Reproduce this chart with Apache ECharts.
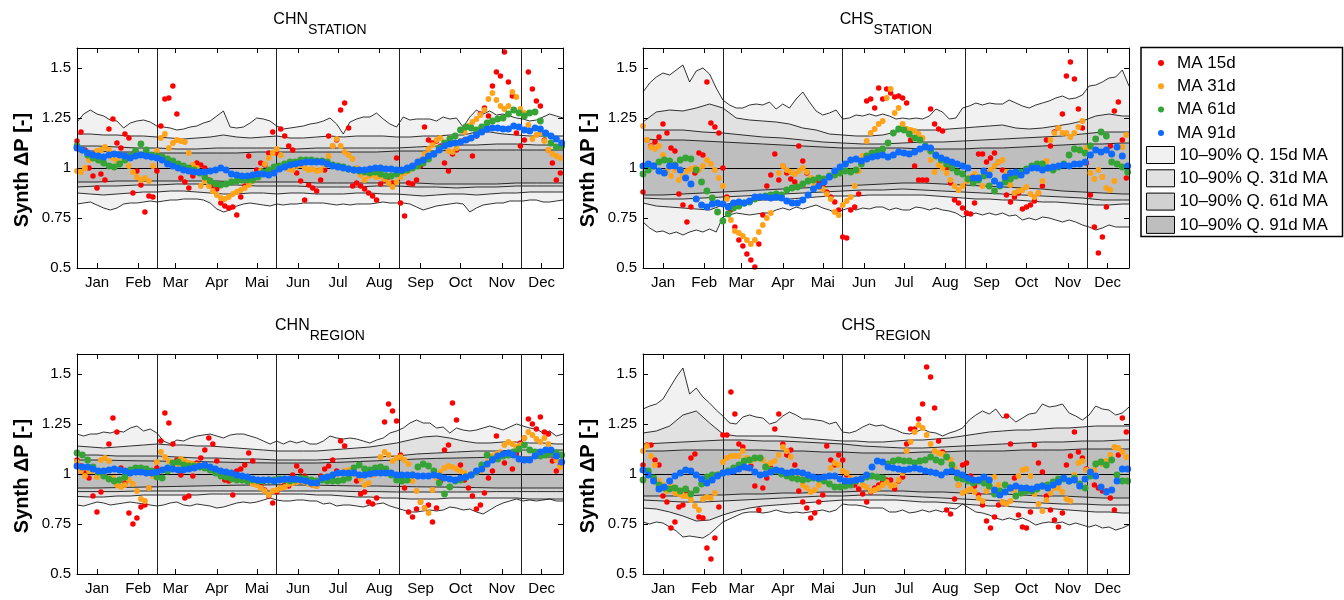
<!DOCTYPE html>
<html>
<head>
<meta charset="utf-8">
<script src="https://cdn.jsdelivr.net/npm/echarts@6/dist/echarts.min.js"></script>
<style>html,body{margin:0;padding:0;background:#fff}#chart{width:1344px;height:600px}</style>
</head>
<body>
<div id="chart"></div>
<script>
// ---------- axis / tick data ----------
const monthLabels = ['Jan','Feb','Mar','Apr','Mai','Jun','Jul','Aug','Sep','Oct','Nov','Dec'];
const monthTickDays = [15,46,74,105,135,166,196,227,258,288,319,349];
const seasonLines = [60.5,150,242,334];
const yTickValues = [0.5,0.75,1,1.25,1.5];
const seriesNames = ['MA 15d','MA 31d','MA 61d','MA 91d'];
const bandNames = ['10–90% Q. 15d MA','10–90% Q. 31d MA','10–90% Q. 61d MA','10–90% Q. 91d MA'];
// sampling step (days) of each stored array
const STEP = {ma15:3, ma31:3, ma61:4, ma91:4, q15:5, q31:10, q61:15, q91:15};

// ---------- CHN STATION ----------
const chnStationMA15 = [1.135,1.18,1.09,1.00,0.96,0.90,0.97,0.94,1.195,1.245,1.125,1.10,1.17,1.15,0.875,0.985,0.915,0.78,0.86,0.855,0.985,1.21,1.345,1.35,1.41,1.27,0.95,0.93,0.90,0.96,1.025,1.015,1.00,0.94,0.91,0.895,0.825,0.81,0.80,0.805,0.765,0.855,0.91,1.06,0.95,0.99,1.025,1.015,1.075,1.18,1.075,1.195,1.16,1.11,1.09,0.975,0.935,0.84,0.915,0.90,0.885,
0.94,0.99,1.16,1.11,1.14,1.29,1.325,1.20,0.91,0.925,0.91,0.895,0.875,0.86,0.84,0.92,0.94,0.955,0.925,1.05,0.825,0.76,0.925,0.92,0.94,1.01,1.205,1.14,1.125,1.135,1.11,1.025,0.985,1.07,1.09,1.13,1.14,1.145,1.06,1.16,1.27,1.30,1.26,1.41,1.48,1.46,1.58,1.43,1.36,1.175,1.11,1.14,1.48,1.395,1.335,1.31,1.14,1.09,1.025,0.94,0.975];
const chnStationMA31 = [0.985,0.98,1.00,1.04,1.065,1.085,1.09,1.105,1.09,1.05,1.035,1.06,1.04,1.01,0.98,0.955,0.94,0.95,0.935,1.01,1.085,1.15,1.17,1.10,1.125,1.14,1.135,1.13,1.075,1.015,1.00,0.91,0.935,0.91,0.885,0.865,0.85,0.845,0.855,0.87,0.88,0.89,0.90,0.915,0.935,0.96,0.985,1.02,1.05,1.075,1.095,1.065,1.02,0.995,0.99,1.01,1.015,1.00,0.99,0.995,0.985,
0.99,1.015,1.06,1.11,1.145,1.11,1.08,1.065,1.045,1.00,0.965,0.94,0.96,0.965,0.955,0.96,0.945,0.925,0.905,0.93,0.955,0.975,0.985,1.00,1.015,1.04,1.07,1.095,1.115,1.14,1.15,1.12,1.085,1.08,1.10,1.135,1.18,1.21,1.23,1.245,1.265,1.29,1.345,1.375,1.34,1.31,1.295,1.31,1.38,1.355,1.295,1.275,1.215,1.145,1.165,1.175,1.135,1.09,1.07,1.06,1.05];
const chnStationMA61 = [1.11,1.09,1.065,1.05,1.04,1.025,1.01,1.005,1.02,1.04,1.06,1.085,1.12,1.09,1.065,1.06,1.055,1.045,1.035,1.02,1.01,1.00,0.99,0.975,0.955,0.935,0.92,0.915,0.92,0.93,0.935,0.94,0.94,0.94,0.955,0.98,0.99,1.005,1.01,1.02,1.03,1.03,1.04,1.04,1.04,1.035,
1.035,1.03,1.015,1.01,1.005,0.995,0.99,0.985,0.98,0.975,0.98,0.97,0.96,0.96,0.97,0.985,0.99,1.00,1.01,1.025,1.045,1.07,1.10,1.125,1.145,1.16,1.19,1.205,1.20,1.19,1.205,1.225,1.235,1.245,1.25,1.27,1.29,1.275,1.26,1.275,1.28,1.235,1.17,1.125,1.105,1.11];
const chnStationMA91 = [1.10,1.09,1.075,1.065,1.06,1.055,1.065,1.07,1.065,1.06,1.05,1.06,1.065,1.06,1.055,1.05,1.04,1.02,1.01,1.00,0.99,0.985,0.98,0.98,0.98,0.985,0.99,1.00,0.99,0.97,0.965,0.96,0.96,0.965,0.97,0.97,0.965,0.975,0.995,1.005,1.015,1.02,1.025,1.03,1.03,1.03,
1.03,1.02,1.01,1.005,1.00,0.995,0.99,0.99,0.99,0.995,1.00,1.00,0.995,0.995,0.99,0.99,1.00,1.01,1.03,1.04,1.06,1.07,1.09,1.11,1.12,1.125,1.13,1.14,1.15,1.165,1.18,1.195,1.20,1.20,1.195,1.195,1.21,1.205,1.19,1.185,1.20,1.195,1.175,1.16,1.145,1.125];
const chnStationQ15Hi = [1.23,1.27,1.29,1.27,1.26,1.24,1.235,1.20,1.225,1.235,1.24,1.23,1.21,1.205,1.20,1.19,1.195,1.205,1.21,1.225,1.235,1.26,1.285,1.205,1.20,1.205,1.225,1.25,1.245,1.235,1.21,1.195,1.20,1.205,1.21,1.22,1.225,
1.235,1.25,1.22,1.17,1.23,1.245,1.255,1.255,1.275,1.245,1.22,1.205,1.255,1.24,1.245,1.245,1.245,1.235,1.255,1.245,1.25,1.205,1.255,1.29,1.27,1.285,1.265,1.27,1.26,1.25,1.245,1.235,1.24,1.255,1.27,1.26,1.25];
const chnStationQ15Lo = [0.82,0.825,0.83,0.815,0.80,0.79,0.80,0.82,0.825,0.825,0.83,0.835,0.83,0.835,0.84,0.84,0.845,0.845,0.845,0.84,0.825,0.795,0.78,0.79,0.81,0.82,0.825,0.82,0.815,0.81,0.82,0.815,0.82,0.82,0.825,0.825,0.825,
0.825,0.82,0.815,0.82,0.815,0.82,0.82,0.82,0.825,0.83,0.825,0.825,0.825,0.82,0.805,0.79,0.80,0.81,0.815,0.82,0.825,0.82,0.78,0.80,0.815,0.82,0.825,0.825,0.835,0.835,0.835,0.84,0.84,0.83,0.83,0.835,0.84];
const chnStationQ31Hi = [1.17,1.17,1.165,1.165,1.16,1.16,1.155,1.15,1.145,1.15,1.155,1.165,1.155,1.15,1.155,1.16,1.15,1.15,1.155,1.16,1.155,1.16,1.16,1.16,1.155,1.155,1.16,1.16,1.165,1.165,1.18,1.18,1.17,1.165,1.16,1.16,1.16,1.16];
const chnStationQ31Lo = [0.875,0.87,0.865,0.87,0.875,0.88,0.88,0.885,0.885,0.88,0.875,0.87,0.87,0.875,0.875,0.87,0.875,0.875,0.87,0.87,0.87,0.875,0.875,0.87,0.87,0.865,0.86,0.865,0.87,0.87,0.865,0.87,0.875,0.875,0.88,0.88,0.88,0.88];
const chnStationQ61Hi = [1.11,1.11,1.105,1.10,1.10,1.095,1.095,1.10,1.10,1.10,1.10,1.095,1.10,1.10,1.10,1.10,1.10,1.105,1.11,1.115,1.115,1.12,1.12,1.115,1.115,1.115];
const chnStationQ61Lo = [0.905,0.91,0.91,0.915,0.915,0.92,0.92,0.915,0.915,0.91,0.91,0.91,0.905,0.905,0.905,0.91,0.91,0.905,0.905,0.90,0.905,0.905,0.91,0.91,0.91,0.91];
const chnStationQ91Hi = [1.085,1.085,1.08,1.08,1.075,1.075,1.075,1.075,1.075,1.08,1.08,1.08,1.08,1.08,1.08,1.08,1.085,1.085,1.085,1.09,1.09,1.09,1.09,1.09,1.09,1.09];
const chnStationQ91Lo = [0.93,0.93,0.935,0.935,0.935,0.935,0.935,0.935,0.93,0.93,0.93,0.93,0.925,0.925,0.925,0.925,0.925,0.925,0.92,0.92,0.92,0.92,0.925,0.925,0.925,0.925];

// ---------- CHS STATION ----------
const chsStationMA15 = [0.88,1.14,1.11,1.13,1.155,1.22,1.175,1.10,1.085,0.87,0.815,0.73,0.805,0.975,1.075,1.065,1.43,1.225,1.205,1.175,1.00,0.855,0.79,0.705,0.64,0.61,0.57,0.54,0.505,0.62,0.765,0.91,0.965,1.07,0.94,1.01,0.975,0.945,0.93,1.11,1.035,0.975,0.94,0.91,0.93,0.91,0.88,0.855,0.83,0.79,0.655,0.65,0.79,0.805,0.87,1.04,1.335,1.345,1.30,1.40,1.345,
1.395,1.375,1.355,1.36,1.35,1.325,1.14,1.01,0.94,0.94,0.94,1.295,1.22,1.195,1.185,1.00,0.925,0.84,0.825,0.80,0.775,0.77,0.825,1.07,1.07,1.03,1.05,1.075,1.03,0.99,0.865,0.83,0.855,0.875,0.795,0.805,0.815,0.835,0.875,0.91,1.14,1.11,1.18,1.20,1.27,1.46,1.53,1.445,1.295,1.20,1.025,0.865,0.705,0.575,0.655,0.805,1.11,1.285,1.33,1.14,0.95];
const chsStationMA31 = [1.21,1.14,1.105,1.095,1.11,1.065,0.985,0.96,0.99,0.94,0.96,0.985,0.995,1.00,0.99,1.01,1.04,1.02,0.99,0.95,0.91,0.845,0.74,0.685,0.675,0.66,0.64,0.62,0.64,0.68,0.715,0.75,0.775,0.855,0.975,1.01,0.99,0.98,0.97,0.985,1.00,0.98,0.95,0.915,0.905,0.895,0.87,0.845,0.78,0.765,0.815,0.835,0.855,0.91,0.985,1.06,1.135,1.175,1.195,1.22,1.235,
1.35,1.395,1.275,1.30,1.22,1.195,1.19,1.185,1.17,1.15,1.10,1.04,0.98,1.015,1.00,0.975,0.94,0.91,0.89,0.91,0.935,0.955,0.97,0.945,0.91,0.975,0.99,1.01,1.03,1.04,0.98,0.915,0.875,0.885,0.89,0.905,0.87,0.855,0.875,0.935,1.035,1.14,1.175,1.20,1.175,1.175,1.155,1.175,1.205,1.235,1.10,0.975,0.945,0.99,0.955,0.90,0.89,0.935,1.02,1.105,1.165];
const chsStationMA61 = [0.97,0.99,1.01,1.03,1.04,1.035,1.015,1.04,1.05,1.045,0.99,0.93,0.885,0.85,0.78,0.735,0.77,0.80,0.81,0.825,0.83,0.845,0.855,0.86,0.865,0.87,0.865,0.89,0.90,0.905,0.92,0.935,0.94,0.95,0.945,0.96,0.965,0.975,0.985,0.98,0.99,1.02,1.06,1.075,1.08,1.095,
1.125,1.175,1.195,1.19,1.17,1.15,1.14,1.11,1.085,1.06,1.04,1.02,1.00,0.98,0.97,0.945,0.925,0.94,0.96,0.91,0.885,0.91,0.93,0.945,0.96,0.98,0.995,1.01,1.02,1.02,1.00,0.99,1.005,1.02,1.065,1.095,1.09,1.075,1.11,1.145,1.18,1.16,1.03,1.02,1.005,0.98];
const chsStationMA91 = [1.01,1.02,1.01,0.985,0.975,1.01,1.01,0.99,0.95,0.92,0.845,0.815,0.805,0.82,0.825,0.82,0.805,0.825,0.83,0.825,0.835,0.855,0.855,0.855,0.85,0.855,0.85,0.835,0.825,0.825,0.84,0.865,0.895,0.91,0.93,0.955,0.985,1.005,1.02,1.04,1.045,1.035,1.045,1.055,1.06,1.065,
1.055,1.065,1.08,1.075,1.07,1.08,1.095,1.105,1.10,1.065,1.05,1.04,1.03,1.02,1.01,1.00,0.95,0.95,0.985,0.965,0.935,0.915,0.955,0.975,0.98,0.965,0.985,1.00,1.00,0.99,1.00,1.005,1.01,1.015,1.01,1.02,1.02,1.03,1.065,1.09,1.08,1.09,1.07,1.105,1.06,1.01];
const chsStationQ15Hi = [1.38,1.425,1.455,1.475,1.465,1.49,1.515,1.43,1.485,1.50,1.47,1.40,1.34,1.315,1.30,1.30,1.315,1.32,1.315,1.33,1.295,1.32,1.30,1.345,1.38,1.33,1.285,1.265,1.275,1.29,1.245,1.25,1.265,1.26,1.27,1.26,1.27,
1.26,1.245,1.25,1.245,1.25,1.245,1.26,1.295,1.28,1.245,1.25,1.30,1.31,1.325,1.315,1.325,1.32,1.32,1.34,1.325,1.31,1.30,1.315,1.325,1.335,1.35,1.36,1.345,1.35,1.365,1.41,1.415,1.43,1.45,1.455,1.49,1.41];
const chsStationQ15Lo = [0.73,0.70,0.68,0.685,0.67,0.68,0.665,0.68,0.69,0.68,0.695,0.68,0.755,0.765,0.775,0.77,0.765,0.77,0.775,0.775,0.79,0.80,0.79,0.805,0.795,0.805,0.815,0.80,0.79,0.775,0.79,0.80,0.79,0.80,0.795,0.805,0.805,
0.79,0.80,0.79,0.79,0.805,0.80,0.79,0.80,0.79,0.785,0.775,0.755,0.765,0.775,0.765,0.775,0.765,0.775,0.76,0.765,0.74,0.75,0.74,0.755,0.75,0.74,0.73,0.74,0.73,0.715,0.705,0.69,0.70,0.715,0.705,0.705,0.705];
const chsStationQ31Hi = [1.23,1.28,1.29,1.285,1.30,1.32,1.30,1.25,1.24,1.235,1.23,1.22,1.20,1.19,1.17,1.165,1.16,1.16,1.165,1.18,1.19,1.19,1.19,1.195,1.20,1.205,1.21,1.215,1.20,1.195,1.20,1.21,1.22,1.235,1.26,1.27,1.26,1.26];
const chsStationQ31Lo = [0.825,0.81,0.805,0.80,0.795,0.79,0.815,0.83,0.835,0.84,0.84,0.845,0.85,0.855,0.86,0.86,0.86,0.865,0.865,0.865,0.865,0.865,0.86,0.855,0.85,0.845,0.845,0.84,0.84,0.835,0.83,0.83,0.825,0.82,0.815,0.815,0.82,0.82];
const chsStationQ61Hi = [1.19,1.19,1.19,1.18,1.175,1.165,1.155,1.15,1.14,1.13,1.125,1.12,1.12,1.125,1.13,1.13,1.135,1.14,1.145,1.15,1.155,1.16,1.17,1.18,1.18,1.18];
const chsStationQ61Lo = [0.85,0.845,0.845,0.85,0.855,0.86,0.865,0.87,0.875,0.88,0.885,0.89,0.89,0.895,0.89,0.885,0.88,0.875,0.87,0.865,0.86,0.855,0.85,0.84,0.84,0.84];
const chsStationQ91Hi = [1.145,1.14,1.14,1.135,1.13,1.125,1.12,1.115,1.11,1.105,1.10,1.10,1.10,1.10,1.095,1.095,1.095,1.10,1.10,1.105,1.11,1.115,1.12,1.12,1.125,1.125];
const chsStationQ91Lo = [0.865,0.865,0.87,0.875,0.88,0.885,0.89,0.895,0.90,0.905,0.91,0.915,0.92,0.925,0.925,0.92,0.915,0.91,0.905,0.90,0.895,0.885,0.88,0.875,0.87,0.87];

// ---------- CHN REGION ----------
const chnRegionMA15 = [1.07,1.04,1.005,0.98,0.89,0.81,0.91,0.99,1.15,1.28,1.21,1.03,0.955,0.805,0.75,0.78,0.835,0.845,0.93,0.995,1.03,1.165,1.305,1.255,1.15,1.07,0.995,0.88,0.89,0.99,1.055,1.08,1.12,1.18,1.15,1.065,1.005,0.97,0.965,0.895,1.015,1.025,1.045,1.105,1.065,0.965,0.94,0.92,0.89,0.855,0.91,0.93,0.945,0.94,0.995,1.04,1.015,0.99,0.965,0.945,0.94,
0.99,1.025,1.04,1.07,1.015,1.165,1.14,0.98,1.005,0.965,0.90,0.91,0.86,0.85,0.88,1.015,1.26,1.35,1.315,1.265,1.095,0.93,0.81,0.785,0.825,0.86,0.83,0.845,0.76,0.83,0.965,1.12,1.145,1.355,1.27,1.045,0.97,0.93,0.89,0.825,0.845,0.905,0.98,1.015,1.19,1.095,1.055,1.095,1.025,1.10,1.155,1.18,1.275,1.25,1.225,1.285,1.21,1.20,1.065,1.015,1.045];
const chnRegionMA31 = [1.06,1.015,0.99,1.015,1.015,0.985,1.07,1.08,1.065,0.98,0.945,0.935,0.945,0.97,0.95,0.915,0.875,0.865,0.93,0.99,1.06,1.11,1.085,1.065,1.055,1.05,1.075,1.065,1.055,1.05,1.045,1.045,1.04,1.035,1.025,1.02,1.015,1.005,0.995,0.995,0.985,0.98,0.97,0.965,0.95,0.945,0.93,0.915,0.895,0.915,0.92,0.93,0.935,0.95,0.955,0.96,0.965,0.96,0.95,0.945,0.94,
0.975,0.985,0.99,0.995,1.00,1.005,1.015,1.02,1.015,0.995,0.975,0.945,0.955,0.995,1.025,1.085,1.11,1.095,1.065,1.08,1.085,1.07,1.05,0.965,0.915,0.86,0.83,0.805,0.92,0.98,1.01,1.03,1.04,1.035,1.025,1.015,1.005,0.995,1.00,1.01,1.015,1.04,1.065,1.09,1.10,1.11,1.145,1.16,1.15,1.135,1.145,1.18,1.21,1.195,1.175,1.16,1.18,1.15,1.11,1.07,1.035];
const chnRegionMA61 = [1.105,1.095,1.07,1.035,1.01,0.99,0.975,0.965,0.97,0.985,1.02,1.03,1.03,1.025,1.015,0.985,0.98,1.015,1.055,1.06,1.045,1.04,1.04,1.035,1.03,1.02,1.005,0.99,0.985,0.975,0.97,0.97,0.965,0.97,0.965,0.965,0.97,0.97,0.975,0.97,0.965,0.97,0.98,0.975,0.97,0.965,
0.97,0.965,0.965,0.965,0.97,0.98,1.03,1.045,1.025,1.02,1.03,1.035,1.025,0.995,0.97,0.965,0.97,0.995,1.035,1.05,1.04,1.015,0.955,0.90,0.935,0.965,0.97,0.985,0.995,1.01,1.045,1.095,1.075,1.075,1.09,1.095,1.11,1.125,1.145,1.12,1.11,1.09,1.095,1.105,1.105,1.095];
const chnRegionMA91 = [1.04,1.035,1.035,1.025,1.015,1.015,1.02,1.025,1.02,1.015,1.005,1.01,1.01,1.005,1.005,1.01,1.02,1.03,1.025,1.02,1.02,1.025,1.03,1.04,1.045,1.035,1.025,1.015,1.01,1.005,0.995,0.99,0.985,0.975,0.97,0.97,0.97,0.965,0.97,0.975,0.975,0.975,0.97,0.965,0.955,0.955,
0.98,0.985,0.995,1.005,1.005,1.005,1.005,0.995,0.995,1.00,1.005,1.005,1.005,1.005,0.995,0.995,0.995,0.995,0.99,0.99,0.99,0.995,0.99,0.98,0.975,0.97,0.98,0.985,0.995,1.015,1.025,1.05,1.07,1.09,1.10,1.105,1.095,1.075,1.07,1.07,1.09,1.11,1.12,1.12,1.09,1.06];
const chnRegionQ15Hi = [1.20,1.19,1.20,1.20,1.21,1.205,1.215,1.21,1.23,1.24,1.215,1.225,1.205,1.165,1.15,1.17,1.165,1.18,1.19,1.195,1.20,1.19,1.18,1.195,1.20,1.20,1.19,1.18,1.165,1.15,1.165,1.15,1.165,1.155,1.165,1.15,1.15,
1.165,1.19,1.18,1.175,1.18,1.175,1.165,1.155,1.17,1.18,1.205,1.215,1.23,1.255,1.27,1.255,1.255,1.23,1.235,1.205,1.23,1.22,1.215,1.22,1.23,1.24,1.23,1.22,1.235,1.25,1.24,1.23,1.225,1.205,1.215,1.19,1.20];
const chnRegionQ15Lo = [0.845,0.84,0.85,0.86,0.855,0.845,0.85,0.855,0.86,0.855,0.85,0.845,0.84,0.845,0.855,0.86,0.845,0.84,0.85,0.845,0.84,0.83,0.835,0.845,0.855,0.86,0.855,0.86,0.87,0.88,0.87,0.865,0.865,0.87,0.87,0.865,0.865,
0.85,0.855,0.84,0.845,0.845,0.84,0.835,0.845,0.85,0.855,0.84,0.83,0.82,0.81,0.81,0.815,0.82,0.815,0.82,0.835,0.83,0.82,0.825,0.81,0.80,0.82,0.84,0.855,0.865,0.875,0.865,0.87,0.865,0.87,0.875,0.865,0.865];
const chnRegionQ31Hi = [1.14,1.135,1.13,1.135,1.14,1.145,1.15,1.145,1.145,1.14,1.14,1.135,1.13,1.125,1.12,1.115,1.115,1.115,1.115,1.12,1.125,1.13,1.135,1.145,1.155,1.17,1.185,1.19,1.18,1.165,1.155,1.155,1.16,1.16,1.155,1.155,1.15,1.15];
const chnRegionQ31Lo = [0.888,0.885,0.885,0.89,0.89,0.895,0.895,0.895,0.895,0.895,0.9,0.9,0.9,0.9,0.9,0.9,0.9,0.9,0.895,0.895,0.89,0.885,0.885,0.88,0.88,0.875,0.875,0.875,0.88,0.88,0.88,0.88,0.88,0.88,0.875,0.875,0.875,0.875];
const chnRegionQ61Hi = [1.095,1.095,1.09,1.09,1.09,1.085,1.08,1.08,1.075,1.075,1.07,1.07,1.07,1.075,1.08,1.085,1.09,1.10,1.105,1.11,1.115,1.115,1.12,1.12,1.12,1.12];
const chnRegionQ61Lo = [0.912,0.912,0.912,0.915,0.915,0.915,0.915,0.915,0.915,0.915,0.915,0.915,0.915,0.915,0.912,0.912,0.91,0.91,0.91,0.91,0.91,0.912,0.912,0.912,0.912,0.912];
const chnRegionQ91Hi = [1.07,1.07,1.068,1.066,1.065,1.063,1.062,1.06,1.058,1.056,1.055,1.055,1.055,1.058,1.062,1.066,1.07,1.075,1.078,1.08,1.082,1.085,1.085,1.085,1.085,1.085];
const chnRegionQ91Lo = [0.93,0.93,0.932,0.934,0.936,0.938,0.94,0.942,0.944,0.945,0.946,0.945,0.944,0.942,0.94,0.94,0.938,0.936,0.935,0.934,0.932,0.93,0.93,0.93,0.93,0.93];

// ---------- CHS REGION ----------
const chsRegionMA15 = [1.045,1.145,1.145,1.07,1.045,0.89,0.86,0.73,0.76,0.835,0.845,0.91,1.08,1.10,0.785,0.78,0.63,0.575,0.68,0.835,1.195,1.195,1.41,1.30,1.15,1.135,1.03,1.04,0.94,0.82,0.93,0.98,1.03,1.225,1.30,1.15,1.095,1.12,1.045,0.915,0.86,0.83,0.78,0.805,0.86,0.895,1.14,1.07,1.045,1.095,1.07,0.995,0.96,0.945,0.925,0.90,0.86,0.91,0.93,0.945,0.96,
0.97,0.97,0.925,0.965,0.985,1.15,1.225,1.225,1.275,1.35,1.535,1.485,1.33,1.165,1.11,0.82,0.80,0.875,0.945,1.045,1.055,0.99,0.94,0.895,0.845,0.765,0.73,0.785,0.845,0.86,1.29,1.15,0.98,0.795,0.735,0.73,0.81,1.145,1.055,1.01,0.89,0.82,0.77,0.735,0.805,1.045,1.09,1.21,1.11,1.08,1.025,1.005,0.945,0.93,0.915,0.915,0.88,0.82,1.095,1.28,1.21];
const chsRegionMA31 = [1.115,1.14,1.09,1.045,0.965,0.945,0.915,0.94,0.905,0.90,0.89,0.89,0.87,0.84,0.82,0.875,0.885,0.88,0.905,1.00,1.06,1.08,1.09,1.09,1.09,1.115,1.08,1.065,1.075,1.08,1.07,1.045,1.055,1.065,1.095,1.135,1.115,1.085,1.01,0.995,0.945,0.93,0.91,0.92,0.945,0.97,0.99,1.03,1.055,1.045,1.015,1.005,0.98,0.965,0.975,0.945,0.935,0.915,0.92,0.93,0.945,
0.96,0.94,0.945,0.97,1.005,1.115,1.16,1.21,1.245,1.23,1.195,1.15,1.115,1.105,1.10,1.085,1.07,1.03,0.945,0.905,0.915,0.925,0.91,0.88,0.865,0.915,0.935,0.985,0.945,0.86,0.85,0.865,0.92,0.99,1.02,1.025,0.99,0.90,0.85,0.815,0.87,0.905,0.93,0.93,0.91,0.875,0.865,0.995,1.055,1.065,1.02,1.005,1.02,1.055,1.05,1.065,1.095,1.135,1.13,1.11,1.085];
const chsRegionMA61 = [0.97,1.015,0.98,0.945,0.93,0.925,0.93,0.915,0.925,0.90,0.92,0.95,0.985,0.995,0.995,1.005,1.015,1.03,1.045,1.065,1.07,1.08,1.08,1.035,1.02,1.015,1.00,0.99,0.98,0.975,0.97,0.975,0.98,0.975,0.965,0.95,0.935,0.935,0.94,0.945,0.965,0.975,0.985,0.99,0.985,0.98,
1.05,1.065,1.07,1.065,1.065,1.055,1.065,1.07,1.085,1.07,1.06,1.085,1.045,0.98,0.975,0.965,0.955,0.965,0.955,0.94,0.90,0.915,0.945,0.93,0.89,0.905,0.915,0.915,0.925,0.94,0.945,0.96,0.975,0.975,0.965,0.98,0.95,0.93,0.99,1.05,1.06,1.045,1.07,0.995,0.965,0.965];
const chsRegionMA91 = [1.02,0.995,0.965,0.925,0.935,0.965,0.99,1.005,1.02,1.015,0.995,0.975,0.955,0.97,0.99,1.005,1.01,1.015,1.025,1.035,1.03,1.01,0.995,1.00,1.01,1.02,1.015,1.005,1.01,1.01,1.005,0.995,0.985,0.98,0.985,0.99,0.99,0.975,0.965,0.965,0.97,0.975,0.995,1.035,1.065,1.06,
1.035,1.03,1.025,1.02,1.025,1.03,1.025,1.015,1.01,1.005,0.995,1.01,1.015,1.005,0.995,0.98,0.97,0.97,0.985,0.97,0.92,0.895,0.91,0.93,0.94,0.93,0.93,0.925,0.935,0.94,0.93,0.945,0.96,0.98,0.965,0.97,0.94,0.975,1.01,0.99,0.935,0.91,0.92,0.965,1.025,1.025];
const chsRegionQ15Hi = [1.325,1.34,1.35,1.375,1.43,1.485,1.53,1.40,1.43,1.385,1.355,1.32,1.29,1.255,1.25,1.285,1.295,1.285,1.28,1.25,1.26,1.29,1.31,1.295,1.275,1.275,1.27,1.265,1.25,1.26,1.21,1.205,1.215,1.235,1.25,1.24,1.245,
1.23,1.22,1.205,1.20,1.21,1.225,1.21,1.205,1.19,1.205,1.215,1.23,1.27,1.295,1.315,1.30,1.325,1.28,1.29,1.26,1.28,1.30,1.305,1.35,1.335,1.34,1.35,1.305,1.29,1.27,1.295,1.34,1.325,1.32,1.295,1.305,1.335];
const chsRegionQ15Lo = [0.76,0.75,0.76,0.755,0.735,0.715,0.685,0.69,0.685,0.68,0.70,0.73,0.76,0.775,0.79,0.805,0.81,0.81,0.805,0.81,0.82,0.81,0.805,0.81,0.805,0.81,0.815,0.82,0.81,0.82,0.85,0.845,0.845,0.84,0.83,0.83,0.83,
0.81,0.81,0.82,0.805,0.81,0.82,0.81,0.82,0.81,0.83,0.825,0.85,0.83,0.81,0.805,0.795,0.78,0.77,0.78,0.77,0.78,0.765,0.745,0.755,0.76,0.755,0.76,0.745,0.755,0.745,0.735,0.745,0.73,0.735,0.72,0.73,0.745];
const chsRegionQ31Hi = [1.205,1.215,1.24,1.295,1.315,1.255,1.20,1.19,1.19,1.19,1.19,1.185,1.18,1.175,1.17,1.165,1.165,1.16,1.16,1.165,1.17,1.17,1.175,1.18,1.19,1.20,1.21,1.215,1.22,1.22,1.225,1.23,1.23,1.235,1.24,1.24,1.24,1.24];
const chsRegionQ31Lo = [0.83,0.825,0.81,0.79,0.765,0.77,0.795,0.815,0.83,0.84,0.845,0.85,0.855,0.86,0.865,0.87,0.87,0.87,0.87,0.87,0.865,0.86,0.86,0.855,0.85,0.845,0.84,0.84,0.835,0.83,0.83,0.825,0.82,0.815,0.81,0.81,0.805,0.805];
const chsRegionQ61Hi = [1.15,1.155,1.16,1.165,1.17,1.17,1.165,1.165,1.16,1.155,1.15,1.14,1.135,1.13,1.13,1.135,1.14,1.145,1.15,1.155,1.16,1.16,1.165,1.165,1.17,1.17];
const chsRegionQ61Lo = [0.87,0.865,0.86,0.86,0.865,0.87,0.875,0.88,0.885,0.89,0.89,0.895,0.895,0.89,0.885,0.88,0.875,0.87,0.865,0.86,0.855,0.85,0.85,0.845,0.845,0.845];
const chsRegionQ91Hi = [1.115,1.115,1.12,1.12,1.12,1.12,1.12,1.115,1.115,1.11,1.11,1.105,1.105,1.105,1.11,1.11,1.115,1.115,1.115,1.12,1.12,1.12,1.125,1.125,1.125,1.125];
const chsRegionQ91Lo = [0.89,0.89,0.89,0.895,0.895,0.90,0.90,0.905,0.905,0.91,0.91,0.915,0.915,0.915,0.91,0.91,0.905,0.90,0.90,0.895,0.89,0.89,0.885,0.88,0.88,0.88];

// ---------- styling ----------
const FONT = '"Liberation Sans", Arial, Helvetica, sans-serif';
const MA_COLORS = ['#ff0000','#ffa31a','#36a336','#0f6bff'];
const MA_SIZES = [5.5, 5.8, 6.8, 7];
const BAND_COLORS = ['#f1f1f1','#e1e1e1','#d1d1d1','#bebebe'];

const panels = [
  {main:'CHN', sub:'STATION', left:77,  top:48,  ma:[chnStationMA15,chnStationMA31,chnStationMA61,chnStationMA91],
   hi:[chnStationQ15Hi,chnStationQ31Hi,chnStationQ61Hi,chnStationQ91Hi], lo:[chnStationQ15Lo,chnStationQ31Lo,chnStationQ61Lo,chnStationQ91Lo]},
  {main:'CHS', sub:'STATION', left:643, top:48,  ma:[chsStationMA15,chsStationMA31,chsStationMA61,chsStationMA91],
   hi:[chsStationQ15Hi,chsStationQ31Hi,chsStationQ61Hi,chsStationQ91Hi], lo:[chsStationQ15Lo,chsStationQ31Lo,chsStationQ61Lo,chsStationQ91Lo]},
  {main:'CHN', sub:'REGION',  left:77,  top:354, ma:[chnRegionMA15,chnRegionMA31,chnRegionMA61,chnRegionMA91],
   hi:[chnRegionQ15Hi,chnRegionQ31Hi,chnRegionQ61Hi,chnRegionQ91Hi], lo:[chnRegionQ15Lo,chnRegionQ31Lo,chnRegionQ61Lo,chnRegionQ91Lo]},
  {main:'CHS', sub:'REGION',  left:643, top:354, ma:[chsRegionMA15,chsRegionMA31,chsRegionMA61,chsRegionMA91],
   hi:[chsRegionQ15Hi,chsRegionQ31Hi,chsRegionQ61Hi,chsRegionQ91Hi], lo:[chsRegionQ15Lo,chsRegionQ31Lo,chsRegionQ61Lo,chsRegionQ91Lo]}
];
const maSteps = [STEP.ma15, STEP.ma31, STEP.ma61, STEP.ma91];
const qSteps = [STEP.q15, STEP.q31, STEP.q61, STEP.q91];

function pairs(arr, step) { return arr.map((v, i) => [Math.min(i * step, 365), v]); }

const grid = [], xAxis = [], yAxis = [], series = [];
const axLine = {show:true, onZero:false, lineStyle:{color:'#000', width:1}};
const tickX = {show:true, inside:true, length:5, customValues:monthTickDays, lineStyle:{color:'#000', width:1}};
const tickY = {show:true, inside:true, length:5, customValues:yTickValues, lineStyle:{color:'#000', width:1}};

panels.forEach((p, k) => {
  grid.push({left:p.left, top:p.top, width:486, height:220, containLabel:false});
  xAxis.push({gridIndex:k, type:'value', min:0, max:365, position:'bottom', z:10,
    axisLine:axLine, axisTick:tickX, splitLine:{show:false},
    axisLabel:{customValues:monthTickDays, formatter:(v) => monthLabels[monthTickDays.indexOf(v)],
      color:'#000', fontSize:15, fontFamily:FONT, margin:7}});
  xAxis.push({gridIndex:k, type:'value', min:0, max:365, position:'top', z:10,
    axisLine:axLine, axisTick:tickX, splitLine:{show:false}, axisLabel:{show:false},
    name:'{a|' + p.main + '}{b|' + p.sub + '}', nameLocation:'middle', nameGap:11,
    nameTextStyle:{rich:{
      a:{fontSize:16, fontFamily:FONT, color:'#000', verticalAlign:'top', lineHeight:25},
      b:{fontSize:14, fontFamily:FONT, color:'#000', verticalAlign:'bottom', lineHeight:25}}}});
  yAxis.push({gridIndex:k, type:'value', min:0.5, max:1.6, position:'left', z:10,
    axisLine:axLine, axisTick:tickY, splitLine:{show:false},
    axisLabel:{customValues:yTickValues, color:'#000', fontSize:15, fontFamily:FONT, margin:6},
    name:'Synth ΔP [-]', nameLocation:'middle', nameGap:45, nameRotate:90,
    nameTextStyle:{fontSize:20, fontWeight:'bold', fontFamily:FONT, color:'#000', padding:[0,24,0,0]}});
  yAxis.push({gridIndex:k, type:'value', min:0.5, max:1.6, position:'right', z:10,
    axisLine:axLine, axisTick:tickY, splitLine:{show:false}, axisLabel:{show:false}});

  const xi = 2 * k, yi = 2 * k;
  // quantile bands: upper edges (filled down), then lower edges (filled down with next colour)
  const order = [
    {arr:p.hi[0], step:qSteps[0], fill:BAND_COLORS[0], name:bandNames[0]},
    {arr:p.hi[1], step:qSteps[1], fill:BAND_COLORS[1], name:bandNames[1]},
    {arr:p.hi[2], step:qSteps[2], fill:BAND_COLORS[2], name:bandNames[2]},
    {arr:p.hi[3], step:qSteps[3], fill:BAND_COLORS[3], name:bandNames[3]},
    {arr:p.lo[3], step:qSteps[3], fill:BAND_COLORS[2], name:'lo91'},
    {arr:p.lo[2], step:qSteps[2], fill:BAND_COLORS[1], name:'lo61'},
    {arr:p.lo[1], step:qSteps[1], fill:BAND_COLORS[0], name:'lo31'},
    {arr:p.lo[0], step:qSteps[0], fill:'#ffffff', name:'lo15'}
  ];
  order.forEach(b => {
    series.push({type:'line', name:b.name, xAxisIndex:xi, yAxisIndex:yi, data:pairs(b.arr, b.step),
      symbol:'none', showSymbol:false, silent:true, z:2,
      lineStyle:{color:'#000', width:0.8}, itemStyle:{color:b.fill},
      areaStyle:{color:b.fill, opacity:1, origin:'start'}});
  });
  // reference lines (y = 1, season boundaries)
  series.push({type:'line', name:'ref', xAxisIndex:xi, yAxisIndex:yi, data:[], silent:true,
    markLine:{silent:true, symbol:['none','none'], label:{show:false}, animation:false,
      data:[{yAxis:1, lineStyle:{color:'#000', width:1, type:'solid'}}]
        .concat(seasonLines.map(d => ({xAxis:d, lineStyle:{color:'#222', width:1, type:'solid'}})))}});
  // moving-average scatter points
  p.ma.forEach((arr, m) => {
    series.push({type:'scatter', name:seriesNames[m], xAxisIndex:xi, yAxisIndex:yi,
      data:pairs(arr, maSteps[m]), symbol:'circle', symbolSize:MA_SIZES[m], silent:true, z:6,
      itemStyle:{color:MA_COLORS[m], opacity:1}});
  });
});

const chart = echarts.init(document.getElementById('chart'), null, {renderer:'canvas'});
chart.setOption({
  animation:false,
  backgroundColor:'#ffffff',
  textStyle:{fontFamily:FONT},
  grid, xAxis, yAxis, series,
  legend:[
    {data:seriesNames.map(n => ({name:n, icon:'circle'})), orient:'vertical', left:1158, top:54,
     itemWidth:6, itemHeight:6, itemGap:5.3, padding:0, selectedMode:false,
     textStyle:{fontSize:17, color:'#000', fontFamily:FONT, lineHeight:18, padding:[0,0,0,8]}},
    {data:bandNames.map((n, i) => ({name:n, icon:'rect',
       itemStyle:{color:BAND_COLORS[i], borderColor:'#000', borderWidth:1}})),
     orient:'vertical', left:1146, top:146, itemWidth:28, itemHeight:17, itemGap:5.3, padding:0,
     selectedMode:false, textStyle:{fontSize:17, color:'#000', fontFamily:FONT, lineHeight:18}}
  ],
  graphic:[{type:'rect', z:100, silent:true, shape:{x:1141, y:47.5, width:201.5, height:189},
    style:{fill:'none', stroke:'#000', lineWidth:1.5}}]
});
</script>
</body>
</html>
